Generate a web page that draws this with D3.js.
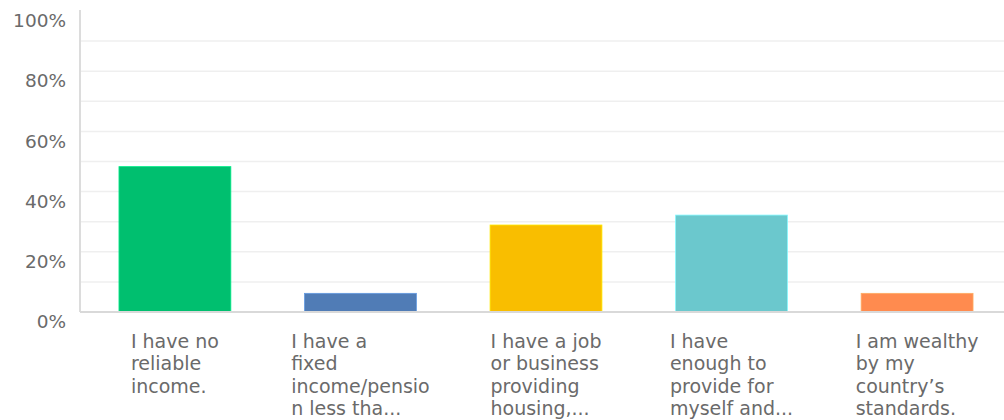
<!DOCTYPE html>
<html>
<head>
<meta charset="utf-8">
<script src="https://cdn.jsdelivr.net/npm/d3@7"></script>
<style>
  html, body { margin: 0; padding: 0; background: #fff; }
  svg { display: block; }
  text { font-family: "DejaVu Sans", Verdana, sans-serif; fill: #6a6a6a; }
</style>
</head>
<body>
<svg id="chart" width="1004" height="420"></svg>
<script>
// Answer options (wrapped as displayed) and share of respondents (%)
const categories = [
  ["I have no", "reliable", "income."],
  ["I have a", "fixed", "income/pensio", "n less tha..."],
  ["I have a job", "or business", "providing", "housing,..."],
  ["I have", "enough to", "provide for", "myself and..."],
  ["I am wealthy", "by my", "country\u2019s", "standards."]
];
const values = [48.3, 6.2, 28.9, 32.2, 6.2];
const colors = ["#00bf6f", "#507cb6", "#f9be00", "#6bc8cd", "#ff8b4f"];
const yTicks = [0, 20, 40, 60, 80, 100];
const gridTicks = [10, 20, 30, 40, 50, 60, 70, 80, 90];

const svg = d3.select("#chart");
const plotLeft = 80, plotRight = 1012, plotTop = 11, plotBottom = 312;

const x = d3.scaleBand()
  .domain(d3.range(categories.length))
  .range([plotLeft, plotRight])
  .paddingInner(0.397)
  .paddingOuter(0.21);

const y = d3.scaleLinear().domain([0, 100]).range([plotBottom, plotTop]);

// light horizontal gridlines
svg.append("g")
  .selectAll("line")
  .data(gridTicks)
  .join("line")
  .attr("x1", plotLeft)
  .attr("x2", 1004)
  .attr("y1", d => y(d))
  .attr("y2", d => y(d))
  .attr("stroke", "#efefef")
  .attr("stroke-width", 1.5);

// y axis labels
const yAxis = d3.axisLeft(y)
  .tickValues(yTicks)
  .tickFormat(d => d + "%")
  .tickSize(0)
  .tickPadding(14);

const yg = svg.append("g")
  .attr("transform", `translate(${plotLeft},0)`)
  .call(yAxis);
yg.select(".domain").remove();
yg.selectAll("text")
  .attr("dy", "0.85em")
  .style("font-size", "18.5px")
  .style("fill", "#6a6a6a")
  .style("font-family", '"DejaVu Sans", Verdana, sans-serif');

// bars
svg.append("g")
  .selectAll("rect")
  .data(values)
  .join("rect")
  .attr("x", (d, i) => x(i))
  .attr("width", x.bandwidth())
  .attr("y", d => y(d))
  .attr("height", d => y(0) - y(d))
  .attr("fill", (d, i) => colors[i])
  .attr("stroke", (d, i) => d3.color(colors[i]).brighter(0.6))
  .attr("stroke-width", 0.8);

// axis lines
svg.append("line")
  .attr("x1", plotLeft).attr("x2", plotLeft)
  .attr("y1", plotTop - 1).attr("y2", plotBottom)
  .attr("stroke", "#dcdcdc").attr("stroke-width", 2);
svg.append("line")
  .attr("x1", plotLeft).attr("x2", 1004)
  .attr("y1", plotBottom).attr("y2", plotBottom)
  .attr("stroke", "#d9d9d9").attr("stroke-width", 2);

// category labels: left-aligned blocks centred under each bar
const labels = svg.append("g")
  .selectAll("text")
  .data(categories)
  .join("text")
  .style("font-size", "19px")
  .attr("y", 347.5);

labels.each(function(lines) {
  const t = d3.select(this);
  lines.forEach((ln, k) => {
    t.append("tspan")
      .attr("x", 0)
      .attr("dy", k === 0 ? 0 : 22.5)
      .text(ln);
  });
});

labels.each(function(lines, i) {
  const w = this.getBBox().width;
  const cx = x(i) + x.bandwidth() / 2;
  d3.select(this).selectAll("tspan").attr("x", cx - w / 2);
});
</script>
</body>
</html>
